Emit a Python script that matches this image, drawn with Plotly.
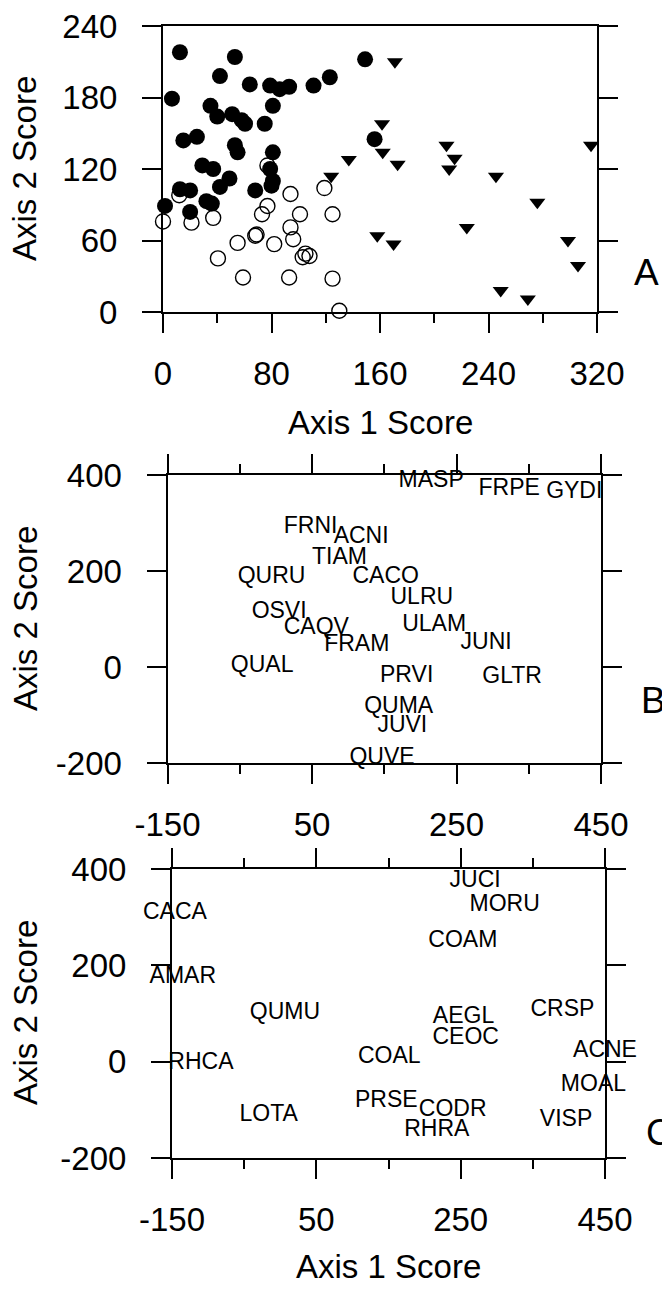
import plotly.graph_objects as go

# ---------------- Panel A data ----------------
filled_x = [12.5, 53, 42, 64, 79, 86, 93, 111, 123, 149, 6.6, 81, 35, 40, 51, 60.5, 75, 58,
            15, 25, 53, 55, 81, 156, 29, 37, 49, 42, 79, 81, 80, 68, 12.5, 20, 32, 36, 1.5, 20]
filled_y = [218, 214, 198, 191, 190, 187, 189, 190, 197, 212, 179, 173, 173, 164, 166, 158, 158, 161,
            144, 147, 140, 134, 134, 145, 123, 120, 112, 105, 120, 110, 106, 102, 103, 102, 93, 91, 89, 84]

open_x = [0, 21, 37, 12, 77, 94, 77, 73, 101, 119, 125, 94, 96, 68, 69, 55, 82, 40.5, 103, 108, 105,
          59, 93, 125, 130]
open_y = [76, 75, 79, 98, 123, 99, 89, 82, 82, 104, 82, 71, 61, 64, 65, 58, 57, 45, 46, 47, 49,
          29, 29, 28, 1]

tri_x = [290.5, 171, 161.5, 162, 173, 137, 124, 158, 170, 209, 215, 211, 245.5, 276, 224, 315.6,
         298.6, 306, 249, 269]
tri_y = [241, 210, 158, 134, 124, 128, 114, 64, 57, 140, 129, 120, 114, 92, 71, 140,
         60, 39, 18, 11]

a_xticks = [0, 80, 160, 240, 320]
a_xminor = [40, 120, 200, 280]
a_yticks = [0, 60, 120, 180, 240]

# ---------------- Panel B data ----------------
b_labels = ["MASP", "FRPE", "GYDI", "FRNI", "ACNI", "TIAM", "QURU", "CACO", "ULRU", "OSVI",
            "CAQV", "ULAM", "JUNI", "FRAM", "QUAL", "PRVI", "GLTR", "QUMA", "JUVI", "QUVE"]
b_x = [215, 323, 413, 48, 118, 88, -6, 152, 202, 4.5,
       56, 219, 291, 112, -19, 181, 327, 170, 175, 147]
b_y = [386, 371, 365, 292, 271, 226, 187, 187, 143, 115,
       81, 87, 50, 46, 2, -19, -21, -83, -124, -190]

# ---------------- Panel C data ----------------
c_labels = ["JUCI", "MORU", "CACA", "COAM", "AMAR", "QUMU", "AEGL", "CRSP", "CEOC", "RHCA",
            "COAL", "ACNE", "MOAL", "PRSE", "CODR", "LOTA", "VISP", "RHRA"]
c_x = [270, 311, -146, 253, -135, 6.6, 254, 391, 257, -110,
       151, 450, 434, 147, 239, -16, 396, 217]
c_y = [374, 325, 308, 251, 176, 100, 93, 107, 48, -3,
       9, 21, -48, -83, -100, -111, -121, -142]

bc_xticks = [-150, 50, 250, 450]
bc_xminor = [-50, 150, 350]
bc_yticks = [-200, 0, 200, 400]

FONT = "Liberation Sans, Arial, sans-serif"
W, H = 662, 1293

fig = go.Figure()

fig.add_trace(go.Scatter(x=open_x, y=open_y, mode="markers", xaxis="x", yaxis="y",
                         marker=dict(symbol="circle-open", size=15, color="black",
                                     line=dict(width=1.4, color="black")),
                         cliponaxis=False, showlegend=False))
fig.add_trace(go.Scatter(x=filled_x, y=filled_y, mode="markers", xaxis="x", yaxis="y",
                         marker=dict(symbol="circle", size=16, color="black"),
                         cliponaxis=False, showlegend=False))
fig.add_trace(go.Scatter(x=tri_x, y=tri_y, mode="markers", xaxis="x", yaxis="y",
                         marker=dict(symbol="triangle-down", size=14, color="black"),
                         cliponaxis=False, showlegend=False))
fig.add_trace(go.Scatter(x=b_x, y=b_y, text=b_labels, mode="text", xaxis="x2", yaxis="y2",
                         textposition="middle center",
                         textfont=dict(family=FONT, size=23, color="black"),
                         cliponaxis=False, showlegend=False))
fig.add_trace(go.Scatter(x=c_x, y=c_y, text=c_labels, mode="text", xaxis="x3", yaxis="y3",
                         textposition="middle center",
                         textfont=dict(family=FONT, size=23, color="black"),
                         cliponaxis=False, showlegend=False))

tickfont = dict(family=FONT, size=33, color="black")


def xax(dom, rng, tv, minor_tv, anchor, mirror):
    return dict(domain=dom, range=rng, anchor=anchor, tickvals=tv, ticktext=[str(v) for v in tv],
                ticks="outside", ticklen=19, tickwidth=1.5, tickcolor="black",
                minor=dict(tickvals=minor_tv, ticks="outside", ticklen=9, tickwidth=1.5,
                           tickcolor="black", showgrid=False),
                showline=True, linewidth=2, linecolor="black", mirror=mirror,
                showgrid=False, zeroline=False, tickfont=tickfont, ticklabelstandoff=12,
                fixedrange=True)


def yax(dom, rng, tv, anchor):
    return dict(domain=dom, range=rng, anchor=anchor, tickvals=tv, ticktext=[str(v) for v in tv],
                ticks="outside", ticklen=19, tickwidth=1.5, tickcolor="black",
                showline=True, linewidth=2, linecolor="black", mirror="ticks",
                showgrid=False, zeroline=False, tickfont=tickfont, ticklabelstandoff=18,
                fixedrange=True)


def px(p):
    return p / W


def py(p):
    return 1 - p / H


fig.update_layout(
    width=W, height=H, margin=dict(l=0, r=0, t=0, b=0, autoexpand=False),
    paper_bgcolor="white", plot_bgcolor="white",
    xaxis=xax([px(163), px(597)], [0, 320], a_xticks, a_xminor, "y", True),
    yaxis=yax([py(312), py(26)], [0, 240], a_yticks, "x"),
    xaxis2=xax([px(167.5), px(601)], [-150, 450], bc_xticks, bc_xminor, "y2", "ticks"),
    yaxis2=yax([py(763), py(475)], [-200, 400], bc_yticks, "x2"),
    xaxis3=xax([px(172), px(605)], [-150, 450], bc_xticks, bc_xminor, "y3", "ticks"),
    yaxis3=yax([py(1158), py(869)], [-200, 400], bc_yticks, "x3"),
)

titlefont = dict(family=FONT, size=33, color="black")
letterfont = dict(family=FONT, size=37, color="black")
ann = []
for yc in [169, 619, 1013]:
    ann.append(dict(x=px(25), y=py(yc), xref="paper", yref="paper", text="Axis 2 Score",
                    textangle=-90, showarrow=False, font=titlefont,
                    xanchor="center", yanchor="middle"))
for xc, yc in [(380, 422), (388, 1266)]:
    ann.append(dict(x=px(xc), y=py(yc), xref="paper", yref="paper", text="Axis 1 Score",
                    showarrow=False, font=titlefont, xanchor="center", yanchor="middle"))
for letter, xl, yc in [("A", 632, 273), ("B", 639, 700), ("C", 644, 1132)]:
    ann.append(dict(x=px(xl), y=py(yc), xref="paper", yref="paper", text=letter,
                    showarrow=False, font=letterfont, xanchor="left", yanchor="middle"))
fig.update_layout(annotations=ann)

fig.write_html("out.html")
